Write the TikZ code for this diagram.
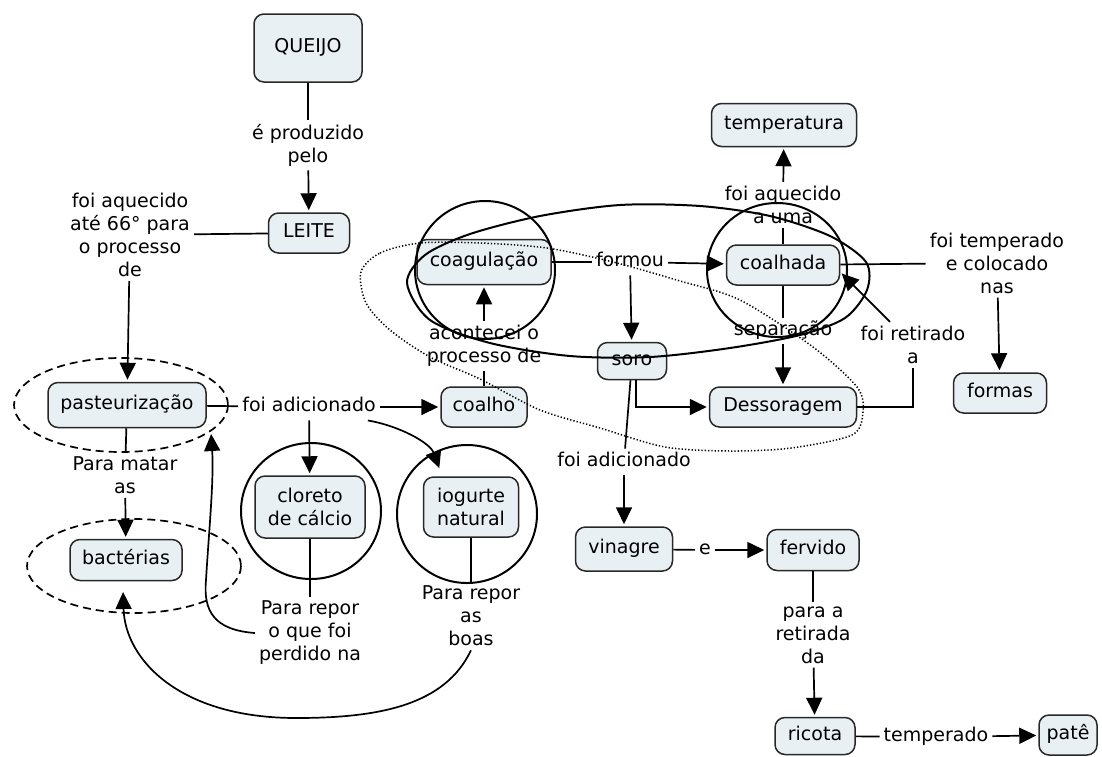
\documentclass[tikz,border=0pt]{standalone}
\usepackage{fontspec}
\setmainfont{DejaVu Sans}
\usetikzlibrary{arrows.meta}
\definecolor{boxfill}{RGB}{233,240,244}
\definecolor{boxline}{RGB}{40,40,40}
\begin{document}
\begin{tikzpicture}[x=1pt,y=-1pt,
  every node/.style={font=\fontsize{19}{23}\selectfont},
  box/.style={draw=boxline, line width=1.5pt, fill=boxfill, rounded corners=10pt, inner sep=0pt, align=center},
  one/.style={text height=14pt, text depth=4.5pt},
  lab/.style={inner sep=4pt, align=center},
  con/.style={line width=1.7pt},
  arr/.style={con, -{Triangle[length=17pt,width=16pt]}, shorten >=2pt},
  ring/.style={line width=2pt},
  dring/.style={line width=1.7pt, dash pattern=on 8pt off 5pt},
  dotring/.style={line width=1.5pt, dash pattern=on 1.3pt off 2pt},
]
\useasboundingbox (0,0) rectangle (1102,756);
\fill[white] (0,0) rectangle (1102,756);

% concept boxes
\node[box, one, minimum width=108pt, minimum height=68pt] (queijo) at (308,48) {QUEIJO};
\node[box, one, minimum width=81pt, minimum height=40pt] (leite) at (309,233) {LEITE};
\node[box, one, minimum width=158pt, minimum height=45pt] (past) at (127,405) {pasteurização};
\node[box, one, minimum width=86pt, minimum height=40pt] (coalho) at (484,407) {coalho};
\node[box, one, minimum width=112pt, minimum height=41pt] (bact) at (126,560) {bactérias};
\node[box, minimum width=110pt, minimum height=62pt] (cloreto) at (310,507) {cloreto\\de cálcio};
\node[box, minimum width=95pt, minimum height=60pt] (iogurte) at (471,507) {iogurte\\natural};
\node[box, one, minimum width=134pt, minimum height=45pt] (coag) at (484,262) {coagulação};
\node[box, one, minimum width=113pt, minimum height=40pt] (coalhada) at (783,265) {coalhada};
\node[box, one, minimum width=69pt, minimum height=37pt] (soro) at (632,361) {soro};
\node[box, one, minimum width=145pt, minimum height=43pt] (temp) at (784,125) {temperatura};
\node[box, one, minimum width=147pt, minimum height=40pt] (dess) at (783,407) {Dessoragem};
\node[box, one, minimum width=93pt, minimum height=40pt] (formas) at (1000,393) {formas};
\node[box, one, minimum width=97pt, minimum height=44pt] (vinagre) at (624,549) {vinagre};
\node[box, one, minimum width=92pt, minimum height=41pt] (fervido) at (813,550) {fervido};
\node[box, one, minimum width=80pt, minimum height=37pt] (ricota) at (815,736) {ricota};
\node[box, one, minimum width=58pt, minimum height=40pt] (pate) at (1068,735) {patê};

% linking phrases
\node[lab] (lbProd) at (308,145) {é produzido\\pelo};
\node[lab] (lbAq) at (130,235) {foi aquecido\\até 66° para\\o processo\\de};
\node[lab, one] (lbAdd) at (309,407) {foi adicionado};
\node[lab] (lbMatar) at (125,475) {Para matar\\as};
\node[lab] (lbRepor1) at (310,633) {Para repor\\o que foi\\perdido na};
\node[lab] (lbRepor2) at (471,616) {Para repor\\as\\boas};
\node[lab] (lbAcont) at (484,346) {acontecei o\\processo de};
\node[lab, one] (lbFormou) at (630,262) {formou};
\node[lab] (lbAqU) at (783,205) {foi aquecido\\a uma};
\node[lab, one] (lbSep) at (783,331) {separação};
\node[lab] (lbRet) at (913,345) {foi retirado\\a};
\node[lab] (lbTemp) at (997,263) {foi temperado\\e colocado\\nas};
\node[lab, one] (lbAdd2) at (624,462) {foi adicionado};
\node[lab, one] (lbE) at (705,550) {e};
\node[lab] (lbRet2) at (813,635) {para a\\retirada\\da};
\node[lab, one] (lbTemp2) at (936,737) {temperado};

% free ends
\coordinate (iogIn) at (440,470);
\coordinate (pastIn) at (211,432);
\coordinate (bactIn) at (123,590);

% connectors
\draw[con] (queijo) -- (lbProd);
\draw[arr] (lbProd) -- (leite);
\draw[con] (leite) -- (lbAq);
\draw[arr] (lbAq) -- (past);
\draw[con] (past) -- (lbAdd);
\draw[arr] (lbAdd) -- (coalho);
\draw[arr] (lbAdd) -- (cloreto);
\draw[arr] ([xshift=-12pt]lbAdd.south east) .. controls (400,426) and (430,443) .. (iogIn);
\draw[con] (past) -- (lbMatar);
\draw[arr] (lbMatar) -- (bact);
\draw[con] (cloreto) -- (lbRepor1);
\draw[con] (iogurte) -- (lbRepor2);
\draw[arr] (lbRepor1.west) .. controls (215,630) and (203,612) .. (206,580) .. controls (209,530) and (214,480) .. (pastIn);
\draw[arr] (lbRepor2.south) .. controls (445,705) and (380,718) .. (296,718) .. controls (180,718) and (125,660) .. (bactIn);
\draw[con] (coalho) -- (lbAcont);
\draw[arr] (lbAcont) -- (coag);
\draw[con] (coag) -- (lbFormou);
\draw[arr] (lbFormou) -- (coalhada);
\draw[arr] (lbFormou) -- (soro);
\draw[con] (coalhada) -- (lbAqU);
\draw[arr] (lbAqU) -- (temp);
\draw[con] (coalhada) -- (lbSep);
\draw[arr] (lbSep) -- (dess);
\draw[arr] ([xshift=4pt]soro.south) |- (dess);
\draw[con] (dess) -| (lbRet);
\draw[arr] ([xshift=-23pt]lbRet.north) -- ([yshift=-7pt]coalhada.east);
\draw[con] (coalhada) -- (lbTemp);
\draw[arr] (lbTemp) -- (formas);
\draw[con] (soro) -- (lbAdd2);
\draw[arr] (lbAdd2) -- (vinagre);
\draw[con] (vinagre) -- (lbE);
\draw[arr] (lbE) -- (fervido);
\draw[con] (fervido) -- (lbRet2);
\draw[arr] (lbRet2) -- (ricota);
\draw[con] (ricota) -- (lbTemp2);
\draw[arr] (lbTemp2) -- (pate);

% highlight rings
\draw[dring] (121,405) ellipse [x radius=107, y radius=47];
\draw[dring] (134,566) ellipse [x radius=107, y radius=47];
\draw[ring] (311,511) ellipse [x radius=70, y radius=68];
\draw[ring] (467,514) ellipse [x radius=70, y radius=69];
\draw[ring] (485,270) ellipse [x radius=70, y radius=69];
\draw[ring] (777,270) ellipse [x radius=70, y radius=67];
\draw[ring] plot[smooth cycle] coordinates {(407,283) (425,255) (470,234) (540,216) (620,205) (700,206) (770,216) (830,236) (866,262) (867,290) (845,318) (800,335) (730,348) (650,357) (570,356) (490,343) (430,320)};
\draw[dotring] plot[smooth cycle] coordinates {(361,272) (380,253) (420,243) (480,243) (547,248) (613,262) (680,281) (740,300) (813,347) (857,387) (863,412) (852,435) (791,448) (730,451) (665,447) (600,428) (540,410) (480,379) (430,357) (390,330) (366,303)};
\end{tikzpicture}
\end{document}
